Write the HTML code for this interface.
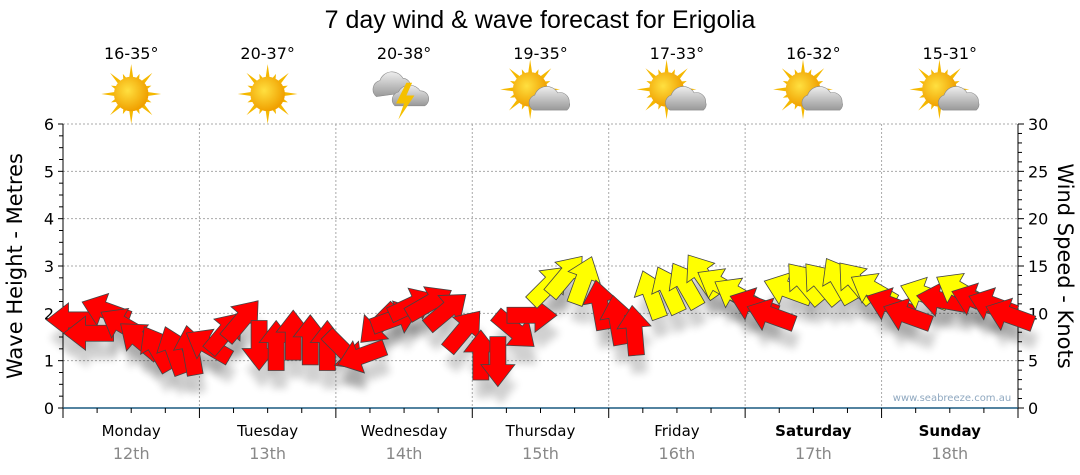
<!DOCTYPE html>
<html><head><meta charset="utf-8"><style>
html,body{margin:0;padding:0;background:#fff;}
svg{display:block;font-family:"DejaVu Sans","Liberation Sans",sans-serif;}
</style></head><body>
<svg id="chart" width="1080" height="475" viewBox="0 0 1080 475">
<defs>
<filter id="sh" x="-50%" y="-50%" width="200%" height="200%"><feGaussianBlur stdDeviation="4"/></filter>
<radialGradient id="sunG" cx="0.4" cy="0.4" r="0.6"><stop offset="0" stop-color="#ffe040"/><stop offset="1" stop-color="#f0a000"/></radialGradient>
<linearGradient id="cloudG" x1="0" y1="0" x2="0" y2="1"><stop offset="0" stop-color="#eee"/><stop offset="1" stop-color="#999"/></linearGradient>
</defs>
<text x="540" y="28" font-size="25" text-anchor="middle" fill="#000" font-family="Liberation Sans, sans-serif">7 day wind &amp; wave forecast for Erigolia</text>
<g id="grid"></g>
<g id="axes"></g>
<g id="icons"></g>
<g id="shadows"></g>
<g id="arrows"></g>
<text x="952" y="401" font-size="10" text-anchor="middle" fill="#8fa8c0">www.seabreeze.com.au</text>
<text transform="translate(22,266) rotate(-90)" font-size="21" text-anchor="middle" fill="#000">Wave Height - Metres</text>
<text transform="translate(1058,266) rotate(90)" font-size="21" text-anchor="middle" fill="#000">Wind Speed - Knots</text>
</svg>
<script>
const days = ["Monday","Tuesday","Wednesday","Thursday","Friday","Saturday","Sunday"];
const dates = ["12th","13th","14th","15th","16th","17th","18th"];
const temps = ["16-35°","20-37°","20-38°","19-35°","17-33°","16-32°","15-31°"];
const weather = ["sun","sun","storm","partly","partly","partly","partly"];
const waveTicks = [0,1,2,3,4,5,6];
const windTicks = [0,5,10,15,20,25,30];
const windSpeed = [9.3,7.9,10.3,8.8,7.2,6.3,6.1,6.1,
 6.6,8.0,9.3,6.6,6.6,7.7,7.2,6.6,
 6.0,5.5,8.8,9.5,10.9,11.1,10.3,8.2,
 5.6,4.9,8.2,9.8,13.0,14.0,13.5,10.9,
 9.3,8.2,12.0,12.5,13.0,14.0,13.0,12.0,
 10.9,9.8,12.5,13.2,13.2,13.5,13.3,12.5,
 10.9,9.8,12.0,11.4,12.5,11.4,10.9,9.8];
const windDir = [180,180,200,210,220,240,250,260,
 210,-50,-50,90,-90,-90,-90,-90,
 45,160,135,-20,-25,-30,-40,-50,
 -90,90,40,0,-45,-50,-70,-100,
 -100,-95,-110,-115,-120,-125,-150,-150,
 200,200,200,230,230,240,230,210,
 200,200,200,190,210,200,200,200];

const NS="http://www.w3.org/2000/svg";
const X0=63,X1=1018,Y0=408,Y1=124;
const dayW=(X1-X0)/7;
function xHour(h){return X0+h/24*dayW;}
function yWave(m){return Y0-(m/6)*(Y0-Y1);}
function yWind(k){return Y0-(k/30)*(Y0-Y1);}
function mk(tag,attrs,parent){const e=document.createElementNS(NS,tag);for(const k in attrs)e.setAttribute(k,attrs[k]);parent.appendChild(e);return e;}
const grid=document.getElementById('grid'),axes=document.getElementById('axes'),icons=document.getElementById('icons');
waveTicks.forEach(t=>{ if(t>0){const l=mk('line',{x1:X0,x2:X1,y1:yWave(t),y2:yWave(t),stroke:'#aaa','stroke-dasharray':'2,2'},grid);

}});
for(let d=1;d<7;d++){const x=xHour(d*24);const l=mk('line',{x1:x,x2:x,y1:Y1,y2:Y0,stroke:'#aaa','stroke-dasharray':'2,2'},grid);

}
mk('line',{x1:X0,x2:X0,y1:Y1,y2:Y0,stroke:'#000'},axes);
mk('line',{x1:X1,x2:X1,y1:Y1,y2:Y0,stroke:'#000'},axes);
mk('line',{x1:X0,x2:X1,y1:Y0,y2:Y0,stroke:'#1a5a80','stroke-width':1.5},axes);
for(let i=0;i<=24;i++){const y=yWave(i/4);mk('line',{x1:i%4==0?X0-5:X0-4,x2:X0,y1:y,y2:y,stroke:'#000'},axes);}
waveTicks.forEach(t=>{const tx=mk('text',{x:X0-9,y:yWave(t)+6,'font-size':16,'text-anchor':'end',fill:'#000'},axes);tx.textContent=t;

});
for(let i=0;i<=30;i++){const y=yWind(i);mk('line',{x1:X1,x2:i%5==0?X1+6:X1+4,y1:y,y2:y,stroke:'#000'},axes);}
windTicks.forEach(t=>{const tx=mk('text',{x:X1+10,y:yWind(t)+6,'font-size':16,fill:'#000'},axes);tx.textContent=t;

});
for(let h=0;h<=168;h+=6){const x=xHour(h);mk('line',{x1:x,x2:x,y1:Y0,y2:h%24==0?Y0+10:Y0+5,stroke:'#000'},axes);}
days.forEach((d,i)=>{const cx=xHour(i*24+12);
const t=mk('text',{x:cx,y:436,'font-size':15,'text-anchor':'middle',fill:'#000','font-weight':i>=5?'bold':'normal'},axes);t.textContent=d;


const t2=mk('text',{x:cx,y:459,'font-size':16,'text-anchor':'middle',fill:'#888'},axes);t2.textContent=dates[i];


const t3=mk('text',{x:cx,y:59,'font-size':16,'text-anchor':'middle',fill:'#000'},icons);t3.textContent=temps[i];


const g=mk('g',{transform:`translate(${cx},${weather[i]=='storm'?92:94}) scale(1.15)`},icons);


if(weather[i]!='storm'){
 const sx=weather[i]=='sun'?0:-9, sy=weather[i]=='sun'?0:-4;
 for(let r=0;r<16;r++){const a=r*22.5*Math.PI/180;const L=r%2?19:26;
  mk('polygon',{points:`${sx+Math.cos(a)*L},${sy+Math.sin(a)*L} ${sx+Math.cos(a+0.15)*13},${sy+Math.sin(a+0.15)*13} ${sx+Math.cos(a-0.15)*13},${sy+Math.sin(a-0.15)*13}`,fill:'#f5b800'},g);}
 mk('circle',{cx:sx,cy:sy,r:15,fill:'url(#sunG)'},g);
}
if(weather[i]=='partly'){
 mk('path',{d:'M-6,14 a7,7 0 0 1 1,-13 a11,11 0 0 1 20,-2 a8,8 0 0 1 10,8 a6,6 0 0 1 -2,7 z',fill:'url(#cloudG)',stroke:'#888','stroke-width':0.5},g);
}
if(weather[i]=='storm'){
 mk('path',{d:'M-24,4 a8,8 0 0 1 3,-14 a11,11 0 0 1 20,-2 a8,8 0 0 1 6,12 z',fill:'url(#cloudG)',stroke:'#888','stroke-width':0.5},g);
 mk('path',{d:'M-8,12 a7,7 0 0 1 3,-12 a11,11 0 0 1 19,-1 a7,7 0 0 1 4,13 z',fill:'url(#cloudG)',stroke:'#888','stroke-width':0.5},g);
 mk('polygon',{points:'2,-8 -7,10 0,10 -5,24 9,3 2,3 7,-8',fill:'#f5c000'},g);
}
});
const sh=document.getElementById('shadows'),ar=document.getElementById('arrows');
const P='M-25,-8 L3,-8 L3,-17 L25,0 L3,17 L3,8 L-25,8 Z';
windSpeed.forEach((k,i)=>{
 const x=xHour(1.5+3*i), y=yWind(k);
 const s=mk('path',{d:P,transform:`translate(${x+3},${y+18}) rotate(${windDir[i]})`,fill:'#000',opacity:0.18,filter:'url(#sh)'},sh);
 
 
});
windSpeed.forEach((k,i)=>{
 const x=xHour(1.5+3*i), y=yWind(k);
 const a=mk('path',{d:P,transform:`translate(${x},${y}) rotate(${windDir[i]})`,fill:k>=12?'#ffff00':'#ff0000',stroke:'#444','stroke-width':0.8},ar);
 
 
});
</script>
</body></html>
